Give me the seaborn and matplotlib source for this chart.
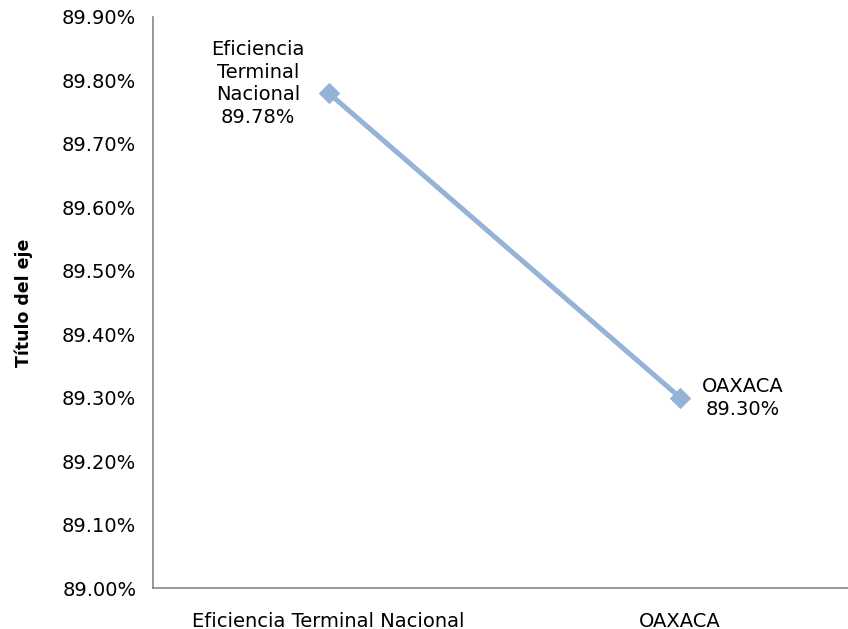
import pandas as pd
import seaborn as sns
import matplotlib.pyplot as plt
import matplotlib.ticker as mticker

categories = ['Eficiencia Terminal Nacional', 'OAXACA']
values = [0.8978, 0.8930]
point_labels = ['Eficiencia\nTerminal\nNacional\n89.78%', 'OAXACA\n89.30%']

df = pd.DataFrame({'Categoria': categories, 'Valor': values})

sns.set_style('white')
plt.rcParams['font.family'] = ['DejaVu Sans']
plt.rcParams['text.color'] = 'black'

fig = plt.figure(figsize=(8.48, 6.29), dpi=100)
ax = fig.add_axes([153 / 848, 41 / 629, 703 / 848, 571 / 629])

color = '#95B3D7'
sns.lineplot(data=df, x='Categoria', y='Valor', color=color, linewidth=3.6,
             marker='D', markersize=10, markeredgecolor=color, ax=ax)

ax.set_xlim(-0.5, 1.5)
ax.set_ylim(0.89, 0.899)
ax.yaxis.set_major_locator(mticker.MultipleLocator(0.001))
ax.yaxis.set_major_formatter(mticker.PercentFormatter(1.0, decimals=2))
ax.tick_params(axis='both', length=0, labelsize=14, colors='black')
ax.tick_params(axis='x', pad=17)
ax.tick_params(axis='y', pad=12)
ax.set_xlabel('')
ax.set_ylabel('Título del eje', fontsize=12.5, fontweight='bold', labelpad=21,
              color='black')

for side in ['top', 'right']:
    ax.spines[side].set_visible(False)
for side in ['left', 'bottom']:
    ax.spines[side].set_color('#868686')
    ax.spines[side].set_linewidth(1.2)

offsets = [(-51, 7), (45, 0)]
for i, (lab, off) in enumerate(zip(point_labels, offsets)):
    ax.annotate(lab, (i, values[i]), xytext=off, textcoords='offset points',
                ha='center', va='center', fontsize=14, linespacing=1.25,
                color='black')

fig.savefig('out.png', dpi=100)
